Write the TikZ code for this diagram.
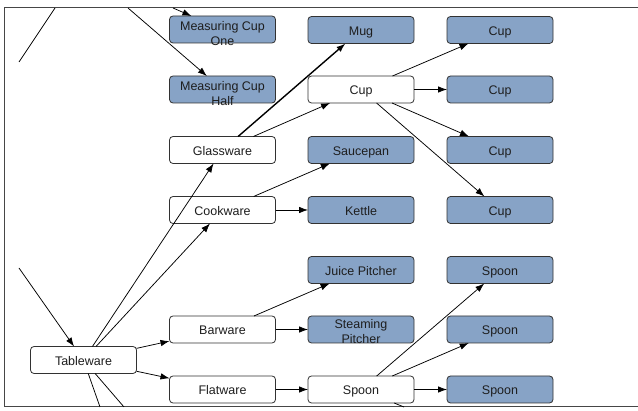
\documentclass[tikz,border=0pt]{standalone}
\usepackage{fontspec}
\setmainfont{Liberation Sans}
\usetikzlibrary{arrows.meta}
\definecolor{boxblue}{RGB}{135,163,198}
\definecolor{boxborder}{RGB}{50,50,50}
\definecolor{textdark}{RGB}{30,30,30}
\definecolor{framegray}{RGB}{70,70,70}
\begin{document}
\begin{tikzpicture}[x=1pt,y=-1pt,
  base/.style={draw=boxborder, rounded corners=3.5pt, minimum width=106pt, minimum height=27pt,
    inner sep=0pt, outer sep=0pt, font=\fontsize{12.5}{15}\selectfont, text=textdark, line width=0.8pt,
    text height=11.5pt, text depth=0.5pt},
  plainbox/.style={base, fill=white},
  leafbox/.style={base, fill=boxblue},
  twolbl/.style={font=\fontsize{12.5}{15}\selectfont, text=textdark, align=center, inner sep=0pt},
  arr/.style={-{Latex[length=9pt,width=6.5pt]}, line width=0.75pt},
  ln/.style={line width=0.75pt}]
\useasboundingbox (0,0) rectangle (638,411);
\draw[framegray, line width=1pt] (638,8) -- (4,8) -- (4,407) -- (638,407);

% column A
\node[leafbox, label={[twolbl, yshift=-4.5pt]center:Measuring Cup\\One}] (mc1) at (222.5,29.5) {};
\node[leafbox, label={[twolbl, yshift=-4.5pt]center:Measuring Cup\\Half}] (mch) at (222.5,89.5) {};
\node[plainbox] (gw) at (222.5,150) {Glassware};
\node[plainbox] (cw) at (222.5,210) {Cookware};
\node[plainbox] (bw) at (222.5,329.5) {Barware};
\node[plainbox] (fw) at (222.5,389.5) {Flatware};
\node[plainbox] (tw) at (83.5,360) {Tableware};
% column B
\node[leafbox] (mug) at (361,30) {Mug};
\node[plainbox] (cupw) at (361,89.5) {Cup};
\node[leafbox] (sauce) at (361,150) {Saucepan};
\node[leafbox] (kettle) at (361,210) {Kettle};
\node[leafbox] (juice) at (361,270) {Juice Pitcher};
\node[leafbox, label={[twolbl, yshift=-2pt]center:Steaming\\Pitcher}] (steam) at (361,329.5) {};
\node[plainbox] (spw) at (361,389.5) {Spoon};
% column C
\node[leafbox] (c1) at (500,30) {Cup};
\node[leafbox] (c2) at (500,89.5) {Cup};
\node[leafbox] (c3) at (500,150) {Cup};
\node[leafbox] (c4) at (500,210) {Cup};
\node[leafbox] (s1) at (500,270) {Spoon};
\node[leafbox] (s2) at (500,329.5) {Spoon};
\node[leafbox] (s3) at (500,389.5) {Spoon};

% free ends
\coordinate (ul1) at (19,62);
\coordinate (ul2) at (55,8);
\coordinate (ul3) at (19,268);
\coordinate (top1) at (128,8);
\coordinate (top2) at (173,8);
\coordinate (bot1) at (100,407);
\coordinate (bot2) at (124,407);
\coordinate (bot3) at (404,407);

% connectors
\draw[ln] (ul1) -- (ul2);
\draw[arr] (ul3) -- (tw);
\draw[arr] (top1) -- (mch);
\draw[arr] (top2) -- (mc1);
\draw[ln] (tw) -- (bot1);
\draw[ln] (tw) -- (bot2);
\draw[ln] (spw) -- (bot3);

\draw[arr] (tw) -- (gw);
\draw[arr] (tw) -- (cw);
\draw[arr] (tw) -- (bw);
\draw[arr] (tw) -- (fw);

\draw[arr, line width=1.4pt] (gw) -- (mug);
\draw[arr] (gw) -- (cupw);
\draw[arr] (cupw) -- (c1);
\draw[arr] (cupw) -- (c2);
\draw[arr] (cupw) -- (c3);
\draw[arr] (cupw) -- (c4);

\draw[arr] (cw) -- (sauce);
\draw[arr] (cw) -- (kettle);

\draw[arr] (bw) -- (juice);
\draw[arr] (bw) -- (steam);

\draw[arr] (fw) -- (spw);
\draw[arr] (spw) -- (s1);
\draw[arr] (spw) -- (s2);
\draw[arr] (spw) -- (s3);
\end{tikzpicture}
\end{document}
